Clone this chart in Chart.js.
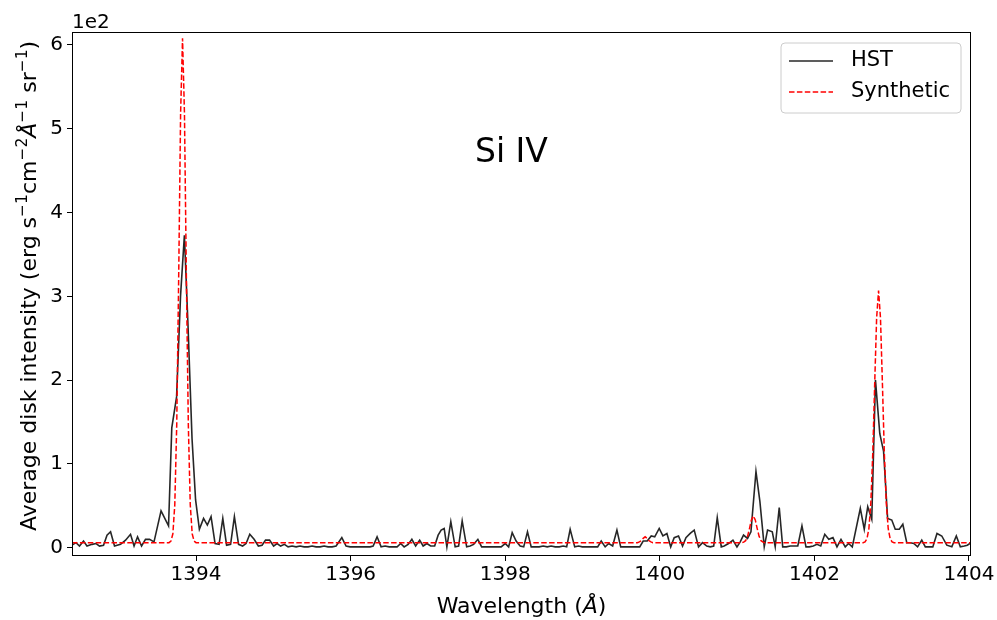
<!DOCTYPE html>
<html>
<head>
<meta charset="utf-8">
<script src="https://cdn.jsdelivr.net/npm/chart.js@4.4.0/dist/chart.umd.min.js"></script>
<style>
  html, body { margin: 0; padding: 0; background: #fff; }
</style>
</head>
<body>
<canvas id="lineChart" width="997" height="620"></canvas>
<script>
// Observed spectrum (HST), wavelength in Angstrom, intensity in raw units (axis shows x1e2)
const hstWave = [
  1392.395, 1392.447, 1392.492, 1392.544, 1392.589, 1392.654, 1392.706, 1392.751, 1392.803, 1392.848,
  1392.894, 1392.945, 1393.023, 1393.088, 1393.152, 1393.198, 1393.243, 1393.295, 1393.346, 1393.398,
  1393.456, 1393.547, 1393.644, 1393.686, 1393.748, 1393.799, 1393.849, 1393.896, 1393.948, 1393.994,
  1394.043, 1394.097, 1394.146, 1394.194, 1394.246, 1394.298, 1394.346, 1394.395, 1394.447, 1394.496,
  1394.550, 1394.602, 1394.647, 1394.695, 1394.751, 1394.806, 1394.854, 1394.899, 1394.951, 1395.003,
  1395.048, 1395.094, 1395.143, 1395.191, 1395.242, 1395.294, 1395.346, 1395.398, 1395.449, 1395.501,
  1395.553, 1395.605, 1395.657, 1395.708, 1395.760, 1395.812, 1395.886, 1395.941, 1395.993, 1396.045,
  1396.097, 1396.148, 1396.200, 1396.252, 1396.291, 1396.342, 1396.394, 1396.446, 1396.498, 1396.550,
  1396.601, 1396.647, 1396.692, 1396.744, 1396.792, 1396.841, 1396.893, 1396.938, 1396.986, 1397.035,
  1397.087, 1397.132, 1397.171, 1397.210, 1397.245, 1397.296, 1397.352, 1397.397, 1397.443, 1397.501,
  1397.546, 1397.591, 1397.646, 1397.695, 1397.740, 1397.792, 1397.844, 1397.896, 1397.947, 1397.999,
  1398.044, 1398.090, 1398.141, 1398.193, 1398.239, 1398.288, 1398.336, 1398.387, 1398.439, 1398.491,
  1398.543, 1398.594, 1398.646, 1398.698, 1398.750, 1398.795, 1398.840, 1398.899, 1398.950, 1398.996,
  1399.047, 1399.099, 1399.151, 1399.196, 1399.242, 1399.293, 1399.339, 1399.390, 1399.445, 1399.494,
  1399.539, 1399.591, 1399.643, 1399.695, 1399.740, 1399.785, 1399.837, 1399.889, 1399.934, 1399.992,
  1400.040, 1400.092, 1400.141, 1400.186, 1400.242, 1400.294, 1400.338, 1400.393, 1400.445, 1400.501,
  1400.553, 1400.607, 1400.652, 1400.697, 1400.743, 1400.795, 1400.833, 1400.889, 1400.946, 1400.998,
  1401.040, 1401.083, 1401.135, 1401.179, 1401.244, 1401.295, 1401.351, 1401.394, 1401.455, 1401.493,
  1401.545, 1401.590, 1401.636, 1401.688, 1401.739, 1401.785, 1401.839, 1401.891, 1401.933, 1401.985,
  1402.033, 1402.082, 1402.134, 1402.186, 1402.240, 1402.292, 1402.344, 1402.399, 1402.442, 1402.490,
  1402.594, 1402.645, 1402.690, 1402.742, 1402.790, 1402.846, 1402.895, 1402.947, 1403.001, 1403.046,
  1403.098, 1403.144, 1403.195, 1403.240, 1403.286, 1403.335, 1403.389, 1403.435, 1403.486, 1403.532,
  1403.586, 1403.648, 1403.713, 1403.778, 1403.836, 1403.888, 1403.939, 1403.978, 1404.026
];
const hstFlux = [
  3, 6, 2, 8, 2, 4, 5, 2, 3, 15,
  19, 2, 4, 9, 16, 2, 13, 2, 10, 10,
  7, 44, 26, 143, 180, 300, 373, 265, 130, 57,
  22, 35, 27, 37, 5, 4, 35, 3, 4, 37,
  4, 2, 5, 16, 10, 2, 3, 9, 9, 2,
  5, 2, 4, 1, 2, 1, 2, 1, 1, 2,
  1, 1, 2, 1, 1, 2, 12, 2, 1, 1,
  1, 1, 1, 1, 2, 13, 1, 2, 1, 1,
  1, 5, 1, 4, 10, 2, 9, 2, 5, 2,
  2, 15, 21, 23, 1, 31, 1, 2, 32, 1,
  2, 4, 10, 1, 1, 1, 1, 1, 1, 5,
  1, 18, 8, 2, 1, 19, 1, 1, 1, 2,
  1, 2, 1, 1, 2, 1, 22, 1, 2, 1,
  1, 1, 1, 1, 8, 1, 5, 2, 21, 1,
  1, 1, 1, 1, 1, 8, 8, 14, 13, 23,
  14, 17, 1, 12, 14, 2, 12, 17, 21, 1,
  6, 2, 1, 2, 36, 1, 2, 5, 9, 1,
  7, 15, 11, 19, 91, 55, 1, 21, 19, 1,
  48, 1, 1, 2, 2, 2, 26, 1, 1, 2,
  4, 2, 16, 10, 12, 1, 10, 1, 5, 1,
  47, 22, 49, 34, 200, 136, 115, 35, 33, 22,
  22, 28, 6, 6, 5, 1, 9, 1, 1, 1,
  17, 14, 3, 1, 14, 1, 2, 3, 6
];

// Synthetic spectrum
const synWave = [
  1392.395, 1393.650, 1393.675, 1393.700, 1393.725, 1393.750, 1393.775, 1393.800, 1393.825, 1393.850,
  1393.875, 1393.900, 1393.925, 1393.950, 1393.975, 1394.000, 1399.710, 1399.735, 1399.760, 1399.785,
  1399.810, 1399.835, 1399.860, 1399.885, 1399.910, 1401.060, 1401.085, 1401.110, 1401.135, 1401.160,
  1401.185, 1401.210, 1401.235, 1401.260, 1401.285, 1401.310, 1401.335, 1401.360, 1402.630, 1402.655,
  1402.680, 1402.705, 1402.730, 1402.755, 1402.780, 1402.805, 1402.830, 1402.855, 1402.880, 1402.905,
  1402.930, 1402.955, 1402.980, 1403.005, 1403.030, 1404.026
];
const synFlux = [
  6, 6, 7.8, 16.6, 51.5, 147, 321, 518, 608, 518,
  321, 147, 51.5, 16.6, 7.8, 6, 6, 7, 8.3, 11.2,
  13, 11.2, 8.3, 7, 6, 6, 6.6, 8.4, 13.5, 22.8,
  33.2, 38, 33.2, 22.8, 13.5, 8.4, 6.6, 6, 6, 7,
  10.7, 22.7, 53.3, 112.3, 195.6, 274, 307, 274, 195.6, 112.3,
  53.3, 22.7, 10.7, 7, 6, 6
];

const seriesNames = ['HST', 'Synthetic'];
const xTicks = [1394, 1396, 1398, 1400, 1402, 1404];
const yTicks = [0, 100, 200, 300, 400, 500, 600];
const xRange = [1392.395, 1404.026];
const yRange = [-9.9, 615.5];
const lineLabel = { text: 'Si IV', x: 1398.08, y: 471 };

// axis title pieces: [text, style] -> n normal, s superscript, i italic
const xTitleParts = [['Wavelength (', 'n'], ['Å', 'i'], [')', 'n']];
const yTitleParts = [
  ['Average disk intensity (erg s', 'n'], ['\u22121', 's'], ['cm', 'n'], ['\u22122', 's'],
  ['Å', 'i'], ['\u22121', 's'], [' sr', 'n'], ['\u22121', 's'], [')', 'n']
];

const FONT = 'DejaVu Sans';

const toPoints = (xs, ys) => xs.map((x, i) => ({ x: x, y: ys[i] }));

function partFont(style) {
  if (style === 's') return '15.5px "' + FONT + '"';
  if (style === 'i') return 'italic 22px "' + FONT + '"';
  return '22px "' + FONT + '"';
}

// draws a mixed-style title centred on (x, y), rotated by angle
function drawParts(ctx, parts, x, y, angle) {
  let total = 0;
  parts.forEach(p => { ctx.font = partFont(p[1]); total += ctx.measureText(p[0]).width; });
  ctx.save();
  ctx.translate(x, y);
  ctx.rotate(angle);
  ctx.textAlign = 'left';
  ctx.textBaseline = 'alphabetic';
  let cx = -total / 2;
  parts.forEach(p => {
    ctx.font = partFont(p[1]);
    ctx.fillText(p[0], cx, p[1] === 's' ? -9 : 0);
    cx += ctx.measureText(p[0]).width;
  });
  ctx.restore();
}

// box around the plot, like matplotlib spines, plus texts and legend
const framePlugin = {
  id: 'frame',
  afterDatasetsDraw(chart) {
    const { ctx, chartArea: a, scales } = chart;
    ctx.save();
    ctx.strokeStyle = '#000';
    ctx.lineWidth = 1;
    ctx.strokeRect(Math.round(a.left) + 0.5, Math.round(a.top) + 0.5,
      Math.round(a.right - a.left) - 1, Math.round(a.bottom - a.top) - 1);

    // line label
    ctx.fillStyle = '#000';
    ctx.font = '33px "' + FONT + '"';
    ctx.textAlign = 'center';
    ctx.textBaseline = 'middle';
    ctx.fillText(lineLabel.text, scales.x.getPixelForValue(lineLabel.x), scales.y.getPixelForValue(lineLabel.y));

    // offset text
    ctx.font = '20px "' + FONT + '"';
    ctx.textAlign = 'left';
    ctx.textBaseline = 'alphabetic';
    ctx.fillText('1e2', a.left, 28);

    // axis titles
    drawParts(ctx, xTitleParts, (a.left + a.right) / 2, 613, 0);
    drawParts(ctx, yTitleParts, 36, 286, -Math.PI / 2);

    // legend
    const bx = 781, by = 43, bw = 180, bh = 70, r = 4;
    ctx.beginPath();
    ctx.moveTo(bx + r, by);
    ctx.arcTo(bx + bw, by, bx + bw, by + bh, r);
    ctx.arcTo(bx + bw, by + bh, bx, by + bh, r);
    ctx.arcTo(bx, by + bh, bx, by, r);
    ctx.arcTo(bx, by, bx + bw, by, r);
    ctx.closePath();
    ctx.fillStyle = 'rgba(255,255,255,0.8)';
    ctx.fill();
    ctx.strokeStyle = '#cccccc';
    ctx.stroke();

    ctx.font = '21px "' + FONT + '"';
    const rows = [61, 92];
    chart.data.datasets.forEach((ds, i) => {
      ctx.beginPath();
      ctx.strokeStyle = ds.borderColor;
      ctx.lineWidth = ds.borderWidth;
      ctx.setLineDash(ds.borderDash || []);
      ctx.moveTo(789, rows[i]);
      ctx.lineTo(833, rows[i]);
      ctx.stroke();
      ctx.setLineDash([]);
      ctx.fillStyle = '#000';
      ctx.textBaseline = 'middle';
      ctx.fillText(ds.label, 851, rows[i]);
    });
    ctx.restore();
  }
};

const ctx = document.getElementById('lineChart').getContext('2d');
const chart = new Chart(ctx, {
  type: 'line',
  data: {
    datasets: [{
      label: seriesNames[0],
      data: toPoints(hstWave, hstFlux),
      borderColor: 'rgba(0,0,0,0.85)',
      borderWidth: 1.6,
      pointRadius: 0,
      tension: 0,
      order: 2
    }, {
      label: seriesNames[1],
      data: toPoints(synWave, synFlux),
      borderColor: '#ff0000',
      borderWidth: 1.5,
      borderDash: [5.5, 2.4],
      pointRadius: 0,
      tension: 0,
      order: 1
    }]
  },
  options: {
    responsive: false,
    devicePixelRatio: 1,
    animation: false,
    layout: { padding: { left: 0, right: 26, top: 32, bottom: 0 } },
    plugins: { legend: { display: false }, tooltip: { enabled: false } },
    scales: {
      x: {
        type: 'linear',
        min: xRange[0],
        max: xRange[1],
        afterBuildTicks: (s) => { s.ticks = xTicks.map(v => ({ value: v })); },
        afterFit: (s) => { s.height = 64; },
        grid: { display: true, drawOnChartArea: false, drawTicks: true, tickLength: 5, color: '#000' },
        border: { display: false },
        ticks: {
          color: '#000',
          font: { family: FONT, size: 20 },
          padding: 2,
          maxRotation: 0,
          callback: (v) => String(v)
        },
        title: { display: false }
      },
      y: {
        min: yRange[0],
        max: yRange[1],
        afterBuildTicks: (s) => { s.ticks = yTicks.map(v => ({ value: v })); },
        afterFit: (s) => { s.width = 72; },
        grid: { display: true, drawOnChartArea: false, drawTicks: true, tickLength: 5, color: '#000' },
        border: { display: false },
        ticks: {
          color: '#000',
          font: { family: FONT, size: 20 },
          padding: 4,
          callback: (v) => String(v / 100)
        },
        title: { display: false }
      }
    }
  },
  plugins: [framePlugin]
});
</script>
</body>
</html>
